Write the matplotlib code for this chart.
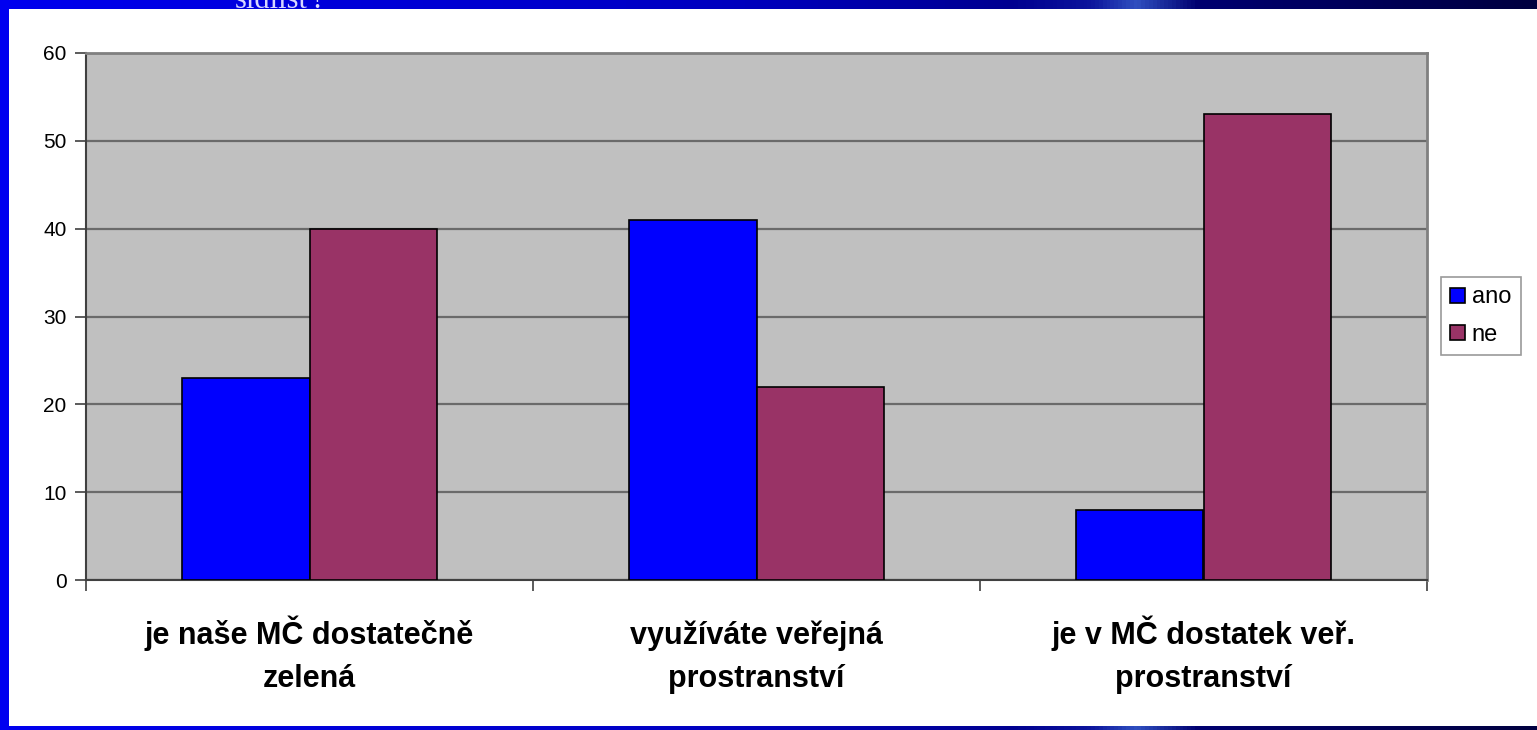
import matplotlib
matplotlib.use("Agg")
import matplotlib.pyplot as plt
import numpy as np
from matplotlib.patches import Rectangle

categories = ["je naše MČ dostatečně\nzelená", "využíváte veřejná\nprostranství", "je v MČ dostatek veř.\nprostranství"]
series_names = ["ano", "ne"]
ano = [23, 41, 8]
ne = [40, 22, 53]
yticks = [0, 10, 20, 30, 40, 50, 60]
colors = ["#0000FF", "#993366"]

W, H = 1537, 730
fig = plt.figure(figsize=(W / 100, H / 100), dpi=100)
fig.patch.set_facecolor("white")

# slide frame
bg = fig.add_axes([0, 0, 1, 1], zorder=-5)
bg.axis("off")
grad = np.linspace(0, 1, 400)
cmap = matplotlib.colors.LinearSegmentedColormap.from_list(
    "band", ["#0000EE", "#0000C8", "#000090", "#3050C0", "#000070", "#000040"])
vals = np.interp(grad, [0, 0.5, 0.71, 0.74, 0.78, 1.0], [0, 0.25, 0.45, 0.6, 0.8, 1.0])
bg.imshow(vals[None, :], cmap=cmap, vmin=0, vmax=1, extent=[0, W, 9, 0], aspect="auto")
bg.imshow(vals[None, :], cmap=cmap, vmin=0, vmax=1, extent=[0, W, H, H - 4], aspect="auto")
bg.add_patch(Rectangle((0, 0), 9, H, color="#0000F0", lw=0))
bg.set_xlim(0, W)
bg.set_ylim(H, 0)
fig.text(280 / W, 1 - 1 / H, "sídlišť?", color="#d8d8ff", family="Liberation Serif",
         fontsize=22, ha="center", va="center")

ax = fig.add_axes([86 / W, 1 - 580 / H, (1427 - 86) / W, (580 - 53) / H])
ax.set_facecolor("#C0C0C0")

x = np.arange(len(categories)) + 0.5
w = 1 / 3.5
ax.bar(x - w / 2, ano, width=w, color=colors[0], edgecolor="black", linewidth=1.2, label=series_names[0], zorder=3)
ax.bar(x + w / 2, ne, width=w, color=colors[1], edgecolor="black", linewidth=1.2, label=series_names[1], zorder=3)

ax.set_xlim(0, len(categories))
ax.set_ylim(0, 60)
ax.set_yticks(yticks)
ax.set_yticklabels([str(v) for v in yticks], family="Liberation Sans", fontsize=15)
ax.yaxis.grid(True, color="#6a6a6a", linewidth=1.6, zorder=1)
ax.set_axisbelow(True)

ax.set_xticks(x)
ax.set_xticklabels(categories, family="Liberation Sans", fontweight="bold", fontsize=22,
                   linespacing=1.55, va="baseline")
ax.tick_params(axis="x", length=0, pad=77)
ax.set_xticks(np.arange(len(categories) + 1), minor=True)
ax.tick_params(axis="x", which="minor", length=8, width=1.2, color="#404040")
ax.tick_params(axis="y", length=8, width=1.2, color="#404040", pad=6)

for s in ["top", "right"]:
    ax.spines[s].set_color("#808080")
    ax.spines[s].set_linewidth(2)
ax.spines["left"].set_color("#404040")
ax.spines["bottom"].set_color("#404040")
ax.spines["left"].set_linewidth(1.5)
ax.spines["bottom"].set_linewidth(1.5)

leg = fig.legend(loc="upper left", bbox_to_anchor=(1441 / W, 1 - 277 / H),
                 prop={"family": "Liberation Sans", "size": 17}, frameon=True,
                 fancybox=False, handlelength=0.6, handleheight=0.6, handletextpad=0.3,
                 borderpad=0.4, labelspacing=0.65, borderaxespad=0)
leg.get_frame().set_edgecolor("#808080")
leg.get_frame().set_linewidth(1.2)

fig.savefig("out.png", dpi=100, facecolor="white")
